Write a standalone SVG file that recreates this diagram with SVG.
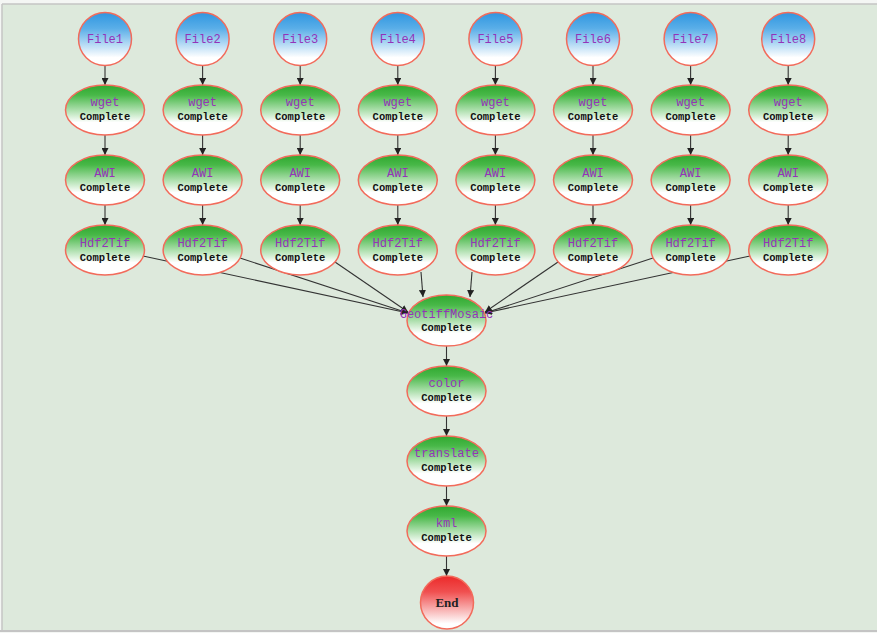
<svg xmlns="http://www.w3.org/2000/svg" width="877" height="633" viewBox="0 0 877 633">
<defs>
<linearGradient id="gGreen" x1="0" y1="0" x2="0" y2="1">
<stop offset="0" stop-color="#2fa82f"/>
<stop offset="0.2" stop-color="#48b848"/>
<stop offset="0.75" stop-color="#ffffff"/>
<stop offset="1" stop-color="#ffffff"/>
</linearGradient>
<linearGradient id="gBlue" x1="0" y1="0" x2="0" y2="1">
<stop offset="0" stop-color="#2f96e0"/>
<stop offset="0.3" stop-color="#5aaee8"/>
<stop offset="0.85" stop-color="#ffffff"/>
<stop offset="1" stop-color="#ffffff"/>
</linearGradient>
<linearGradient id="gRed" x1="0" y1="0" x2="0" y2="1">
<stop offset="0" stop-color="#ec2a2a"/>
<stop offset="0.3" stop-color="#f05050"/>
<stop offset="0.9" stop-color="#ffffff"/>
<stop offset="1" stop-color="#ffffff"/>
</linearGradient>
<marker id="arr" viewBox="0 0 10 10" refX="10" refY="5" markerWidth="7" markerHeight="7" markerUnits="userSpaceOnUse" orient="auto">
<path d="M0,0 L10,5 L0,10 z" fill="#222"/>
</marker>
<style>
.e{fill:url(#gGreen);stroke:#f26b5b;stroke-width:1.5}
.f{fill:url(#gBlue);stroke:#f26b5b;stroke-width:1.5}
.r{fill:url(#gRed);stroke:#f26b5b;stroke-width:1.5}
.t{font-family:"Liberation Mono","DejaVu Sans Mono",monospace;font-size:12px;fill:#9433b8;text-anchor:middle}
.c{font-family:"Liberation Mono","DejaVu Sans Mono",monospace;font-size:10.5px;font-weight:bold;fill:#111;text-anchor:middle}
.n{font-family:"Liberation Serif","DejaVu Serif",serif;font-size:13px;font-weight:bold;fill:#222;text-anchor:middle}
.l{stroke:#333;stroke-width:1.1;fill:none;marker-end:url(#arr)}
</style>
</defs>
<rect x="0" y="0" width="877" height="633" fill="#f4f6f4"/>
<rect x="2" y="4" width="875" height="626" fill="#dde9dc"/>
<line x1="2" y1="4" x2="877" y2="4" stroke="#c4c4c4" stroke-width="1.5"/>
<line x1="2" y1="4" x2="2" y2="630" stroke="#c4c4c4" stroke-width="1.5"/>
<line x1="0" y1="631" x2="877" y2="631" stroke="#c4c4c4" stroke-width="2"/>

<g id="connectors">
<line class="l" x1="105" y1="65.5" x2="105" y2="85"/>
<line class="l" x1="202.6" y1="65.5" x2="202.6" y2="85"/>
<line class="l" x1="300.2" y1="65.5" x2="300.2" y2="85"/>
<line class="l" x1="397.8" y1="65.5" x2="397.8" y2="85"/>
<line class="l" x1="495.4" y1="65.5" x2="495.4" y2="85"/>
<line class="l" x1="593" y1="65.5" x2="593" y2="85"/>
<line class="l" x1="690.6" y1="65.5" x2="690.6" y2="85"/>
<line class="l" x1="788.2" y1="65.5" x2="788.2" y2="85"/>

<line class="l" x1="105" y1="135" x2="105" y2="155"/>
<line class="l" x1="202.6" y1="135" x2="202.6" y2="155"/>
<line class="l" x1="300.2" y1="135" x2="300.2" y2="155"/>
<line class="l" x1="397.8" y1="135" x2="397.8" y2="155"/>
<line class="l" x1="495.4" y1="135" x2="495.4" y2="155"/>
<line class="l" x1="593" y1="135" x2="593" y2="155"/>
<line class="l" x1="690.6" y1="135" x2="690.6" y2="155"/>
<line class="l" x1="788.2" y1="135" x2="788.2" y2="155"/>

<line class="l" x1="105" y1="205" x2="105" y2="225"/>
<line class="l" x1="202.6" y1="205" x2="202.6" y2="225"/>
<line class="l" x1="300.2" y1="205" x2="300.2" y2="225"/>
<line class="l" x1="397.8" y1="205" x2="397.8" y2="225"/>
<line class="l" x1="495.4" y1="205" x2="495.4" y2="225"/>
<line class="l" x1="593" y1="205" x2="593" y2="225"/>
<line class="l" x1="690.6" y1="205" x2="690.6" y2="225"/>
<line class="l" x1="788.2" y1="205" x2="788.2" y2="225"/>

<line class="l" x1="143" y1="256" x2="408" y2="313"/>
<line class="l" x1="240" y1="258" x2="408" y2="313"/>
<line class="l" x1="335" y1="262" x2="408" y2="312"/>
<line class="l" x1="421" y1="272" x2="423" y2="297"/>
<line class="l" x1="472" y1="272" x2="470" y2="297"/>
<line class="l" x1="558" y1="262" x2="485" y2="312"/>
<line class="l" x1="653" y1="258" x2="485" y2="313"/>
<line class="l" x1="750" y1="256" x2="485" y2="313"/>

<line class="l" x1="446.5" y1="346" x2="446.5" y2="366"/>
<line class="l" x1="446.5" y1="416" x2="446.5" y2="436"/>
<line class="l" x1="446.5" y1="486" x2="446.5" y2="506"/>
<line class="l" x1="446.5" y1="556" x2="446.5" y2="576"/>
</g>

<g id="file1"><circle class="f" cx="105" cy="39" r="26.5"/><text class="t" x="105" y="43">File1</text></g>
<g id="file2"><circle class="f" cx="202.6" cy="39" r="26.5"/><text class="t" x="202.6" y="43">File2</text></g>
<g id="file3"><circle class="f" cx="300.2" cy="39" r="26.5"/><text class="t" x="300.2" y="43">File3</text></g>
<g id="file4"><circle class="f" cx="397.8" cy="39" r="26.5"/><text class="t" x="397.8" y="43">File4</text></g>
<g id="file5"><circle class="f" cx="495.4" cy="39" r="26.5"/><text class="t" x="495.4" y="43">File5</text></g>
<g id="file6"><circle class="f" cx="593" cy="39" r="26.5"/><text class="t" x="593" y="43">File6</text></g>
<g id="file7"><circle class="f" cx="690.6" cy="39" r="26.5"/><text class="t" x="690.6" y="43">File7</text></g>
<g id="file8"><circle class="f" cx="788.2" cy="39" r="26.5"/><text class="t" x="788.2" y="43">File8</text></g>

<g id="wget1"><ellipse class="e" cx="105" cy="110" rx="39.5" ry="25"/><text class="t" x="105" y="106">wget</text><text class="c" x="105" y="120">Complete</text></g>
<g id="wget2"><ellipse class="e" cx="202.6" cy="110" rx="39.5" ry="25"/><text class="t" x="202.6" y="106">wget</text><text class="c" x="202.6" y="120">Complete</text></g>
<g id="wget3"><ellipse class="e" cx="300.2" cy="110" rx="39.5" ry="25"/><text class="t" x="300.2" y="106">wget</text><text class="c" x="300.2" y="120">Complete</text></g>
<g id="wget4"><ellipse class="e" cx="397.8" cy="110" rx="39.5" ry="25"/><text class="t" x="397.8" y="106">wget</text><text class="c" x="397.8" y="120">Complete</text></g>
<g id="wget5"><ellipse class="e" cx="495.4" cy="110" rx="39.5" ry="25"/><text class="t" x="495.4" y="106">wget</text><text class="c" x="495.4" y="120">Complete</text></g>
<g id="wget6"><ellipse class="e" cx="593" cy="110" rx="39.5" ry="25"/><text class="t" x="593" y="106">wget</text><text class="c" x="593" y="120">Complete</text></g>
<g id="wget7"><ellipse class="e" cx="690.6" cy="110" rx="39.5" ry="25"/><text class="t" x="690.6" y="106">wget</text><text class="c" x="690.6" y="120">Complete</text></g>
<g id="wget8"><ellipse class="e" cx="788.2" cy="110" rx="39.5" ry="25"/><text class="t" x="788.2" y="106">wget</text><text class="c" x="788.2" y="120">Complete</text></g>

<g id="awi1"><ellipse class="e" cx="105" cy="180" rx="39.5" ry="25"/><text class="t" x="105" y="177">AWI</text><text class="c" x="105" y="191">Complete</text></g>
<g id="awi2"><ellipse class="e" cx="202.6" cy="180" rx="39.5" ry="25"/><text class="t" x="202.6" y="177">AWI</text><text class="c" x="202.6" y="191">Complete</text></g>
<g id="awi3"><ellipse class="e" cx="300.2" cy="180" rx="39.5" ry="25"/><text class="t" x="300.2" y="177">AWI</text><text class="c" x="300.2" y="191">Complete</text></g>
<g id="awi4"><ellipse class="e" cx="397.8" cy="180" rx="39.5" ry="25"/><text class="t" x="397.8" y="177">AWI</text><text class="c" x="397.8" y="191">Complete</text></g>
<g id="awi5"><ellipse class="e" cx="495.4" cy="180" rx="39.5" ry="25"/><text class="t" x="495.4" y="177">AWI</text><text class="c" x="495.4" y="191">Complete</text></g>
<g id="awi6"><ellipse class="e" cx="593" cy="180" rx="39.5" ry="25"/><text class="t" x="593" y="177">AWI</text><text class="c" x="593" y="191">Complete</text></g>
<g id="awi7"><ellipse class="e" cx="690.6" cy="180" rx="39.5" ry="25"/><text class="t" x="690.6" y="177">AWI</text><text class="c" x="690.6" y="191">Complete</text></g>
<g id="awi8"><ellipse class="e" cx="788.2" cy="180" rx="39.5" ry="25"/><text class="t" x="788.2" y="177">AWI</text><text class="c" x="788.2" y="191">Complete</text></g>

<g id="hdf1"><ellipse class="e" cx="105" cy="250" rx="39.5" ry="25"/><text class="t" x="105" y="247">Hdf2Tif</text><text class="c" x="105" y="261">Complete</text></g>
<g id="hdf2"><ellipse class="e" cx="202.6" cy="250" rx="39.5" ry="25"/><text class="t" x="202.6" y="247">Hdf2Tif</text><text class="c" x="202.6" y="261">Complete</text></g>
<g id="hdf3"><ellipse class="e" cx="300.2" cy="250" rx="39.5" ry="25"/><text class="t" x="300.2" y="247">Hdf2Tif</text><text class="c" x="300.2" y="261">Complete</text></g>
<g id="hdf4"><ellipse class="e" cx="397.8" cy="250" rx="39.5" ry="25"/><text class="t" x="397.8" y="247">Hdf2Tif</text><text class="c" x="397.8" y="261">Complete</text></g>
<g id="hdf5"><ellipse class="e" cx="495.4" cy="250" rx="39.5" ry="25"/><text class="t" x="495.4" y="247">Hdf2Tif</text><text class="c" x="495.4" y="261">Complete</text></g>
<g id="hdf6"><ellipse class="e" cx="593" cy="250" rx="39.5" ry="25"/><text class="t" x="593" y="247">Hdf2Tif</text><text class="c" x="593" y="261">Complete</text></g>
<g id="hdf7"><ellipse class="e" cx="690.6" cy="250" rx="39.5" ry="25"/><text class="t" x="690.6" y="247">Hdf2Tif</text><text class="c" x="690.6" y="261">Complete</text></g>
<g id="hdf8"><ellipse class="e" cx="788.2" cy="250" rx="39.5" ry="25"/><text class="t" x="788.2" y="247">Hdf2Tif</text><text class="c" x="788.2" y="261">Complete</text></g>

<g id="mosaic"><ellipse class="e" cx="446.5" cy="320.5" rx="39.5" ry="25.5"/><text class="t" x="446.5" y="318">GeotiffMosaic</text><text class="c" x="446.5" y="331">Complete</text></g>
<g id="color"><ellipse class="e" cx="446.5" cy="391" rx="39.5" ry="25"/><text class="t" x="446.5" y="387">color</text><text class="c" x="446.5" y="401">Complete</text></g>
<g id="translate"><ellipse class="e" cx="446.5" cy="461" rx="39.5" ry="25"/><text class="t" x="446.5" y="457">translate</text><text class="c" x="446.5" y="471">Complete</text></g>
<g id="kml"><ellipse class="e" cx="446.5" cy="531" rx="39.5" ry="25"/><text class="t" x="446.5" y="527">kml</text><text class="c" x="446.5" y="541">Complete</text></g>
<g id="end"><circle class="r" cx="447" cy="602.5" r="26.5"/><text class="n" x="447" y="607">End</text></g>
</svg>
